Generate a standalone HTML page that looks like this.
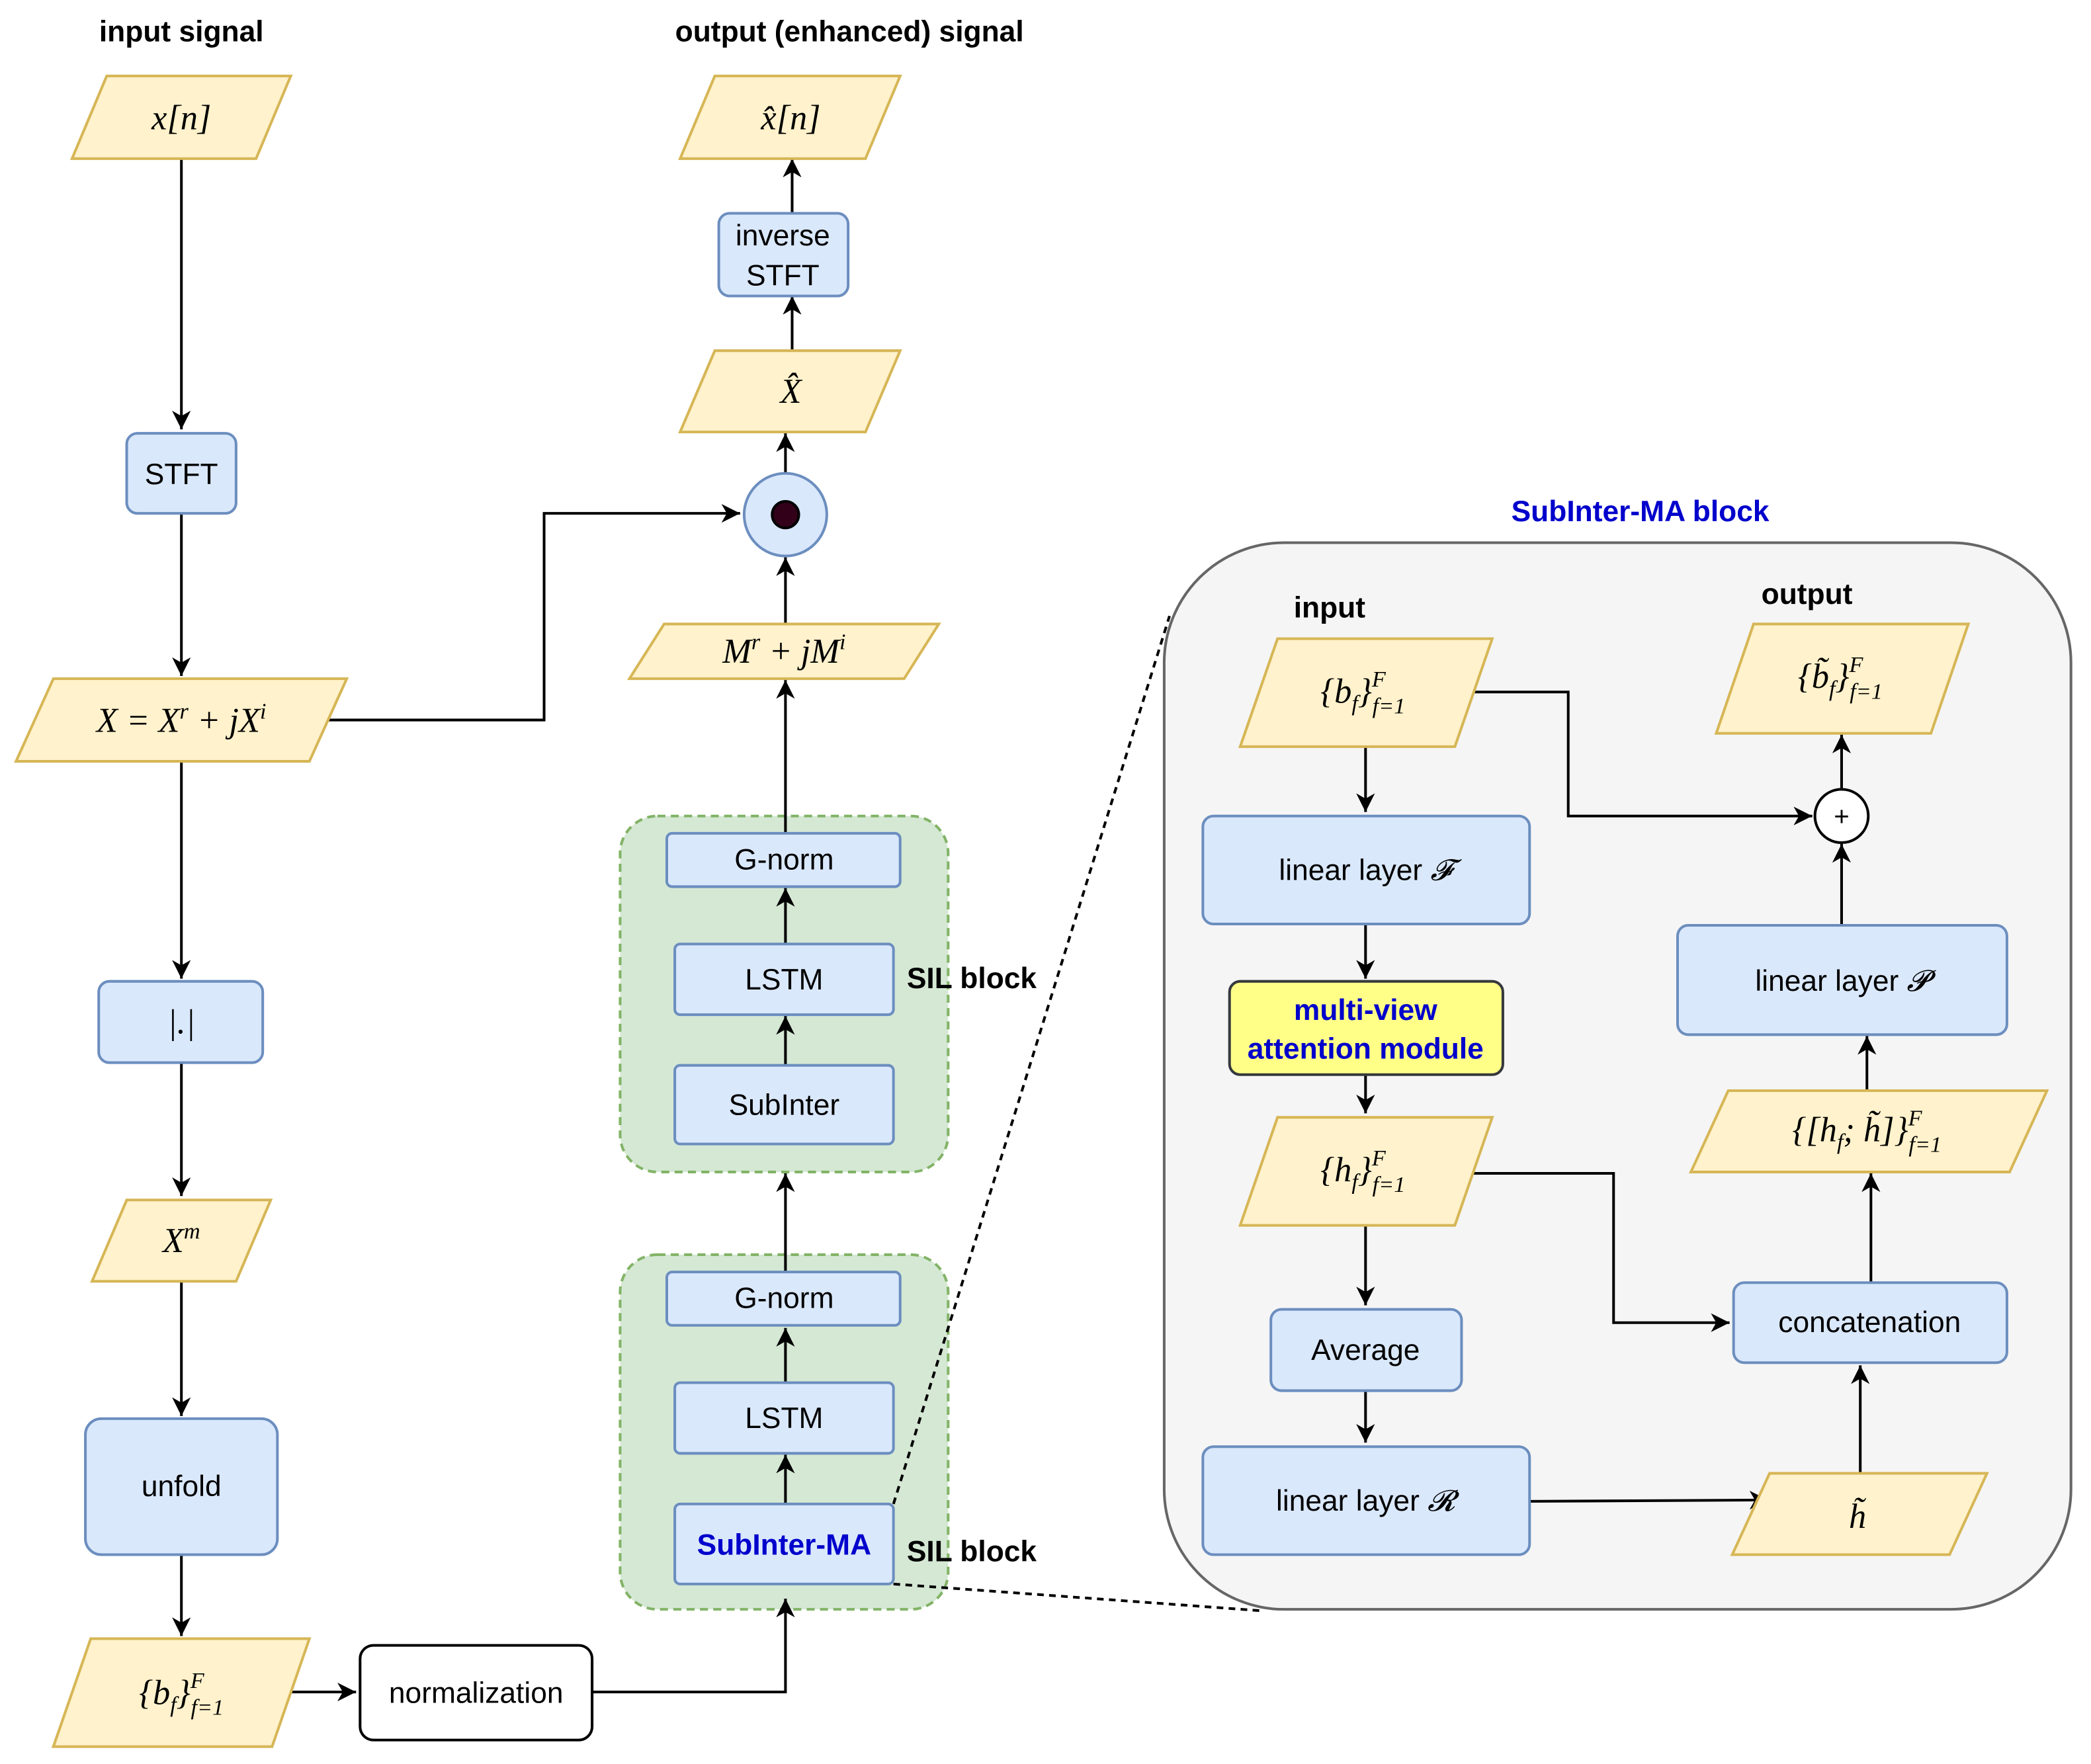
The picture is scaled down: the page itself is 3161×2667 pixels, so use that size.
<!DOCTYPE html>
<html><head><meta charset="utf-8"><style>
html,body{margin:0;padding:0;background:#fff}
svg{display:block}
text{font-family:"Liberation Sans",sans-serif}
.m{font-family:"Liberation Serif",serif;font-style:italic;font-size:26px}
.l{font-size:22px}
.b{font-weight:bold;font-size:22px}
</style></head><body>
<svg width="3161" height="2667" viewBox="0 0 1568 1323" xmlns="http://www.w3.org/2000/svg">
<defs>
<marker id="a" markerUnits="userSpaceOnUse" markerWidth="20" markerHeight="20" refX="14" refY="7" orient="auto">
<path d="M0,0 L14,7 L0,14 L4,7 Z" fill="#000"/>
</marker>
</defs>
<!-- green groups -->
<g fill="#d5e8d4" stroke="#82b366" stroke-width="2" stroke-dasharray="6,4">
<rect x="465" y="612" width="246" height="267" rx="28"/>
<rect x="465" y="941" width="246" height="266" rx="28"/>
</g>
<g fill="none" stroke="#000" stroke-width="2">
<path d="M136,119 V322" marker-end="url(#a)"/>
<path d="M136,385 V507" marker-end="url(#a)"/>
<path d="M240,540 H408 V385 H555" marker-end="url(#a)"/>
<path d="M136,571 V734" marker-end="url(#a)"/>
<path d="M136,797 V897" marker-end="url(#a)"/>
<path d="M136,961 V1062" marker-end="url(#a)"/>
<path d="M136,1166 V1227" marker-end="url(#a)"/>
<path d="M212,1269 H267" marker-end="url(#a)"/>
<path d="M444,1269 H589 V1199" marker-end="url(#a)"/>
<path d="M589,1128 V1091" marker-end="url(#a)"/>
<path d="M589,1037 V996" marker-end="url(#a)"/>
<path d="M589,954 V880" marker-end="url(#a)"/>
<path d="M589,799 V762" marker-end="url(#a)"/>
<path d="M589,708 V666" marker-end="url(#a)"/>
<path d="M589,625 V510" marker-end="url(#a)"/>
<path d="M589,468 V418" marker-end="url(#a)"/>
<path d="M589,355 V325" marker-end="url(#a)"/>
<path d="M594,263 V222" marker-end="url(#a)"/>
<path d="M594,160 V119" marker-end="url(#a)"/>
</g>
<text x="136" y="31" text-anchor="middle" class="b">input signal</text>
<text x="637" y="31" text-anchor="middle" class="b">output (enhanced) signal</text>

<g fill="#fff2cc" stroke="#d6b656" stroke-width="2">
<polygon points="80,57 218,57 192,119 54,119"/>
<polygon points="40,509 260,509 232,571 12,571"/>
<polygon points="95,900 203,900 177,961 69,961"/>
<polygon points="68,1229 232,1229 204,1310 40,1310"/>
<polygon points="536,57 675,57 649,119 510,119"/>
<polygon points="536,263 675,263 649,324 510,324"/>
<polygon points="498,468 704,468 678,509 472,509"/>
</g>
<text x="136" y="97" text-anchor="middle" class="m">x[n]</text>
<text x="136" y="549" text-anchor="middle" class="m">X = X<tspan dy="-10" font-size="17">r</tspan><tspan dy="10"> + jX</tspan><tspan dy="-10" font-size="17">i</tspan></text>
<text x="136" y="939" text-anchor="middle" class="m">X<tspan dy="-10" font-size="17">m</tspan></text>
<text x="136" y="1278" text-anchor="middle" class="m">{b<tspan dy="6" font-size="17">f</tspan><tspan dy="-6">}</tspan><tspan dy="-12" font-size="17">F</tspan><tspan dx="-10" dy="20" font-size="17">f=1</tspan></text>
<text x="593" y="97" text-anchor="middle" class="m">x̂[n]</text>
<text x="593" y="302" text-anchor="middle" class="m">X̂</text>
<text x="588" y="497" text-anchor="middle" class="m">M<tspan dy="-10" font-size="17">r</tspan><tspan dy="10"> + jM</tspan><tspan dy="-10" font-size="17">i</tspan></text>

<g fill="#dae8fc" stroke="#6c8ebf" stroke-width="2">
<rect x="95" y="325" width="82" height="60" rx="8"/>
<rect x="74" y="736" width="123" height="61" rx="8"/>
<rect x="64" y="1064" width="144" height="102" rx="12"/>
<rect x="539" y="160" width="97" height="62" rx="8"/>
</g>
<text x="136" y="363" text-anchor="middle" class="l">STFT</text>
<text x="136" y="775" text-anchor="middle" class="m">|.|</text>
<text x="136" y="1122" text-anchor="middle" class="l">unfold</text>
<text x="587" y="184" text-anchor="middle" class="l">inverse</text>
<text x="587" y="214" text-anchor="middle" class="l">STFT</text>
<rect x="270" y="1234" width="174" height="71" rx="10" fill="#fff" stroke="#000" stroke-width="2"/>
<text x="357" y="1277" text-anchor="middle" class="l">normalization</text>

<circle cx="589" cy="386" r="31" fill="#dae8fc" stroke="#6c8ebf" stroke-width="2"/>
<circle cx="589" cy="386" r="10" fill="#33001a" stroke="#000" stroke-width="2"/>

<g fill="#dae8fc" stroke="#6c8ebf" stroke-width="2">
<rect x="500" y="625" width="175" height="40" rx="4"/>
<rect x="506" y="708" width="164" height="53" rx="4"/>
<rect x="506" y="799" width="164" height="59" rx="4"/>
<rect x="500" y="954" width="175" height="40" rx="4"/>
<rect x="506" y="1037" width="164" height="53" rx="4"/>
<rect x="506" y="1128" width="164" height="60" rx="4"/>
</g>
<text x="588" y="652" text-anchor="middle" class="l">G-norm</text>
<text x="588" y="742" text-anchor="middle" class="l">LSTM</text>
<text x="588" y="836" text-anchor="middle" class="l">SubInter</text>
<text x="588" y="981" text-anchor="middle" class="l">G-norm</text>
<text x="588" y="1071" text-anchor="middle" class="l">LSTM</text>
<text x="588" y="1166" text-anchor="middle" class="b" fill="#0000cc">SubInter-MA</text>
<text x="680" y="741" class="b">SIL block</text>
<text x="680" y="1171" class="b">SIL block</text>

<text x="1230" y="391" text-anchor="middle" class="b" fill="#0000cc">SubInter-MA block</text>
<rect x="873" y="407" width="680" height="800" rx="90" fill="#f5f5f5" stroke="#666" stroke-width="2"/>
<g stroke="#000" stroke-width="2" stroke-dasharray="5,4" fill="none">
<path d="M670,1128 L877,462"/>
<path d="M670,1188 L945,1208"/>
</g>
<text x="997" y="463" text-anchor="middle" class="b">input</text>
<text x="1355" y="453" text-anchor="middle" class="b">output</text>

<g fill="none" stroke="#000" stroke-width="2">
<path d="M1101,519 H1176 V612 H1359" marker-end="url(#a)"/>
<path d="M1024,560 V609" marker-end="url(#a)"/>
<path d="M1024,693 V734" marker-end="url(#a)"/>
<path d="M1024,806 V835" marker-end="url(#a)"/>
<path d="M1101,880 H1210 V992 H1297" marker-end="url(#a)"/>
<path d="M1024,919 V979" marker-end="url(#a)"/>
<path d="M1024,1043 V1082" marker-end="url(#a)"/>
<path d="M1147,1126 L1326,1125" marker-end="url(#a)"/>
<path d="M1395,1105 V1024" marker-end="url(#a)"/>
<path d="M1403,962 V880" marker-end="url(#a)"/>
<path d="M1400,818 V777" marker-end="url(#a)"/>
<path d="M1381,694 V633" marker-end="url(#a)"/>
<path d="M1381,591 V551" marker-end="url(#a)"/>
</g>

<g fill="#fff2cc" stroke="#d6b656" stroke-width="2">
<polygon points="958,479 1119,479 1091,560 930,560"/>
<polygon points="958,838 1119,838 1091,919 930,919"/>
<polygon points="1327,1105 1490,1105 1462,1166 1299,1166"/>
<polygon points="1296,818 1535,818 1507,879 1268,879"/>
<polygon points="1315,468 1476,468 1448,550 1287,550"/>
</g>
<text x="1022" y="527" text-anchor="middle" class="m">{b<tspan dy="6" font-size="17">f</tspan><tspan dy="-6">}</tspan><tspan dy="-12" font-size="17">F</tspan><tspan dx="-10" dy="20" font-size="17">f=1</tspan></text>
<text x="1022" y="886" text-anchor="middle" class="m">{h<tspan dy="6" font-size="17">f</tspan><tspan dy="-6">}</tspan><tspan dy="-12" font-size="17">F</tspan><tspan dx="-10" dy="20" font-size="17">f=1</tspan></text>
<text x="1393" y="1146" text-anchor="middle" class="m">h̃</text>
<text x="1400" y="856" text-anchor="middle" class="m">{[h<tspan dy="6" font-size="17">f</tspan><tspan dy="-6">; h̃]}</tspan><tspan dy="-12" font-size="17">F</tspan><tspan dx="-10" dy="20" font-size="17">f=1</tspan></text>
<text x="1380" y="516" text-anchor="middle" class="m">{b̃<tspan dy="6" font-size="17">f</tspan><tspan dy="-6">}</tspan><tspan dy="-12" font-size="17">F</tspan><tspan dx="-10" dy="20" font-size="17">f=1</tspan></text>

<g fill="#dae8fc" stroke="#6c8ebf" stroke-width="2">
<rect x="902" y="612" width="245" height="81" rx="8"/>
<rect x="953" y="982" width="143" height="61" rx="8"/>
<rect x="902" y="1085" width="245" height="81" rx="8"/>
<rect x="1300" y="962" width="205" height="60" rx="8"/>
<rect x="1258" y="694" width="247" height="82" rx="8"/>
</g>
<rect x="922" y="736" width="205" height="70" rx="8" fill="#ffff88" stroke="#36393d" stroke-width="2"/>
<text x="1024" y="660" text-anchor="middle" class="l">linear layer <tspan font-family="Liberation Serif" font-style="italic">𝓕</tspan></text>
<text x="1024" y="1020" text-anchor="middle" class="l">Average</text>
<text x="1024" y="1133" text-anchor="middle" class="l">linear layer <tspan font-family="Liberation Serif" font-style="italic">𝓡</tspan></text>
<text x="1402" y="999" text-anchor="middle" class="l">concatenation</text>
<text x="1381" y="743" text-anchor="middle" class="l">linear layer <tspan font-family="Liberation Serif" font-style="italic">𝓟</tspan></text>
<text x="1024" y="765" text-anchor="middle" class="b" fill="#0000cc">multi-view</text>
<text x="1024" y="794" text-anchor="middle" class="b" fill="#0000cc">attention module</text>
<circle cx="1381" cy="612" r="20" fill="#fff" stroke="#000" stroke-width="2"/>
<text x="1381" y="619" text-anchor="middle" font-size="20">+</text>
</svg>
</body></html>
